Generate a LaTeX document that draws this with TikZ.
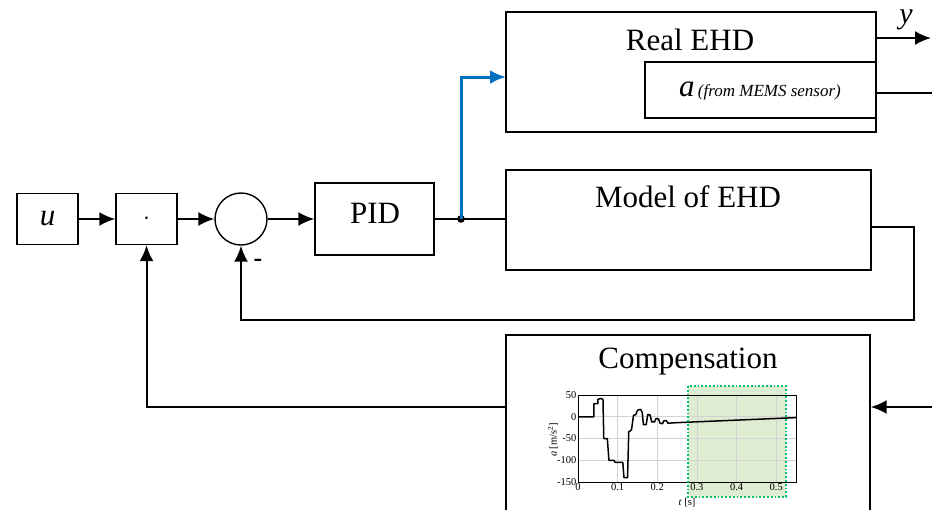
\documentclass[tikz,border=0pt]{standalone}
\usepackage{fontspec}
\setmainfont{Liberation Serif}
\usetikzlibrary{arrows.meta}
\definecolor{wireblue}{RGB}{0,112,192}
\definecolor{greenfill}{RGB}{222,236,210}
\definecolor{greenborder}{RGB}{0,190,110}
\begin{document}
\begin{tikzpicture}[x=1pt,y=-1pt,
  blk/.style={draw, line width=1.4pt, inner sep=0pt},
  conn/.style={line width=2pt},
  arr/.style={conn, -{Latex[length=16pt,width=14pt]}},
  big/.style={font=\fontsize{31}{36}\selectfont},
  tick/.style={font=\fontsize{10.5}{12}\selectfont, inner sep=1.5pt}]
\clip (0,0) rectangle (932,509);
% blocks
\node[blk, minimum width=61pt, minimum height=51pt, font=\fontsize{31}{36}\selectfont\itshape] (u) at (47.5,219) {u};
\node[blk, minimum width=61pt, minimum height=51pt] (mul) at (146.5,219) {\fontsize{24}{24}\selectfont$\cdot$};
\node[draw, circle, line width=1.4pt, minimum size=52pt, inner sep=0pt] (sum) at (241,219) {};
\node[blk, minimum width=119pt, minimum height=72pt] (pid) at (374.5,219) {};
\node[big] (pidt) at (375,213) {PID};
\node[blk, minimum width=370pt, minimum height=120pt] (real) at (691,72) {};
\node[big] (realt) at (690,40) {Real EHD};
\node[blk, minimum width=231pt, minimum height=56pt] (mems) at (760.5,90) {};
\node (memst) at (760,91) {{\fontsize{31}{36}\selectfont\itshape a}\,\,{\fontsize{17}{20}\selectfont\itshape (from MEMS sensor)}};
\node[blk, minimum width=365pt, minimum height=100pt] (model) at (688.5,220) {};
\node[big] (modelt) at (688,197) {Model of EHD};
\node[blk, minimum width=364pt, minimum height=200pt] (comp) at (688,435) {};
\node[big] (compt) at (688,362) {Compensation};
% connectors
\coordinate (j) at (461,219);
\coordinate (rin) at (506,77);
\coordinate (yout) at (931,38);
\coordinate (aout) at (932,93);
\coordinate (f1) at (914,227);
\coordinate (f2) at (914,320);
\coordinate (cin) at (932,407);
\coordinate (cout) at (506,407);
\draw[arr] (u) -- (mul);
\draw[arr] (mul) -- (sum);
\draw[arr] (sum) -- (pid);
\draw[conn] (pid.east) -- (j) -- (j -| model.west);
\fill (j) circle (3.8pt);
\draw[arr, wireblue, line width=3pt] (j) |- (rin);
\draw[arr] (real.east |- yout) -- (yout);
\node[font=\fontsize{30}{36}\selectfont\itshape] (ylab) at (906,20) {y};
\draw[conn] (mems.east |- aout) -- (aout);
\draw[arr] (model.east |- f1) -- (f1) -- (f2) -| (sum.south);
\node[font=\fontsize{26}{26}\selectfont\bfseries] (minus) at (258,263) {-};
\draw[arr] (cin) -- (cin -| comp.east);
\draw[arr] (cout) -| (mul.south);
% chart
\begin{scope}[xshift=578pt, yshift=-416.75pt, x=396.4pt, y=0.435pt]
\fill[greenfill] (0.2775,70.7) rectangle (0.5247,-184.5);
\foreach \t in {0.1,0.2,0.3,0.4,0.5} \draw[gray!35, line width=0.6pt] (\t,-150) -- (\t,50);
\foreach \v in {0,-50,-100} \draw[gray!35, line width=0.6pt] (0,\v) -- (0.55,\v);
\draw[line width=1pt] (0,-150) rectangle (0.55,50);
\foreach \v in {50,0,-50,-100,-150} \node[tick, anchor=east] at (0,\v) {\v};
\foreach \t in {0,0.1,0.2,0.3,0.4,0.5} \node[tick, anchor=north] at (\t,-150) {\t};
\node[tick, rotate=90] (alab) at (-0.063,-53) {\textit{a} [m/s\textsuperscript{2}]};
\node[tick] (tlab) at (0.275,-198) {\textit{t} [s]};
\draw[line width=1.5pt, line join=round] (0,0) -- (0.04,0) -- (0.04,30) -- (0.05,30) -- (0.05,40) -- (0.058,42) -- (0.063,40) -- (0.065,-50) -- (0.074,-50) -- (0.078,-100) -- (0.09,-100) -- (0.094,-105) -- (0.113,-105) -- (0.116,-140) -- (0.125,-140) -- (0.128,-35) -- (0.135,-30) -- (0.14,3) -- (0.146,5) -- (0.15,15) -- (0.158,17) -- (0.162,10) -- (0.165,-18) -- (0.172,-18) -- (0.176,5) -- (0.182,4) -- (0.186,-12) -- (0.193,-12) -- (0.197,-4) -- (0.203,-5) -- (0.207,-15) -- (0.213,-16) -- (0.217,-9) -- (0.223,-9) -- (0.227,-15) -- (0.24,-14) -- (0.29,-12) -- (0.55,-2);
\draw[greenborder, line width=1.8pt, dotted] (0.2775,70.7) rectangle (0.5247,-184.5);
\end{scope}
\end{tikzpicture}
\end{document}
